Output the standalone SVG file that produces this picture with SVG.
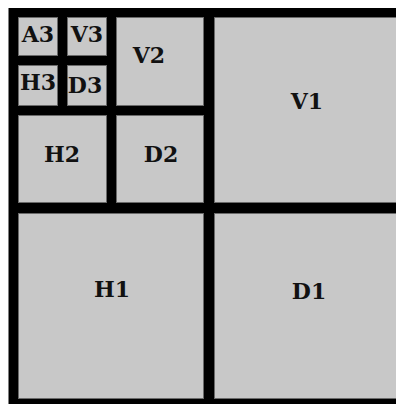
<svg xmlns="http://www.w3.org/2000/svg" width="396" height="404" viewBox="0 0 396 404">
<style>
.cell{fill:#c8c8c8;stroke:#6a6a6a;stroke-width:1}
.lbl{font-family:"DejaVu Serif","Liberation Serif",serif;font-weight:bold;font-size:22px;fill:#111;text-anchor:middle}
</style>
<rect x="0" y="0" width="396" height="404" fill="#ffffff"/>
<rect id="frame" x="8.5" y="8" width="387.5" height="396" fill="#000000"/>
<g id="A3"><rect class="cell" x="18.5" y="17.5" width="39" height="38"/><text class="lbl" x="38" y="42">A3</text></g>
<g id="V3"><rect class="cell" x="67.5" y="17.5" width="39" height="38"/><text class="lbl" x="87" y="42">V3</text></g>
<g id="H3"><rect class="cell" x="18.5" y="65.5" width="39" height="40"/><text class="lbl" x="38" y="90">H3</text></g>
<g id="D3"><rect class="cell" x="67.5" y="65.5" width="39" height="40"/><text class="lbl" x="85" y="93">D3</text></g>
<g id="V2"><rect class="cell" x="116.5" y="17.5" width="87" height="88"/><text class="lbl" x="149" y="63">V2</text></g>
<g id="H2"><rect class="cell" x="18.5" y="115.5" width="88" height="87"/><text class="lbl" x="62" y="162">H2</text></g>
<g id="D2"><rect class="cell" x="116.5" y="115.5" width="87" height="87"/><text class="lbl" x="161" y="162">D2</text></g>
<g id="V1"><rect class="cell" x="214.5" y="17.5" width="182" height="185"/><text class="lbl" x="307" y="109">V1</text></g>
<g id="H1"><rect class="cell" x="18.5" y="213.5" width="185" height="185"/><text class="lbl" x="112" y="297">H1</text></g>
<g id="D1"><rect class="cell" x="214.5" y="213.5" width="182" height="185"/><text class="lbl" x="309" y="299">D1</text></g>
<g id="connectors"></g>
</svg>
